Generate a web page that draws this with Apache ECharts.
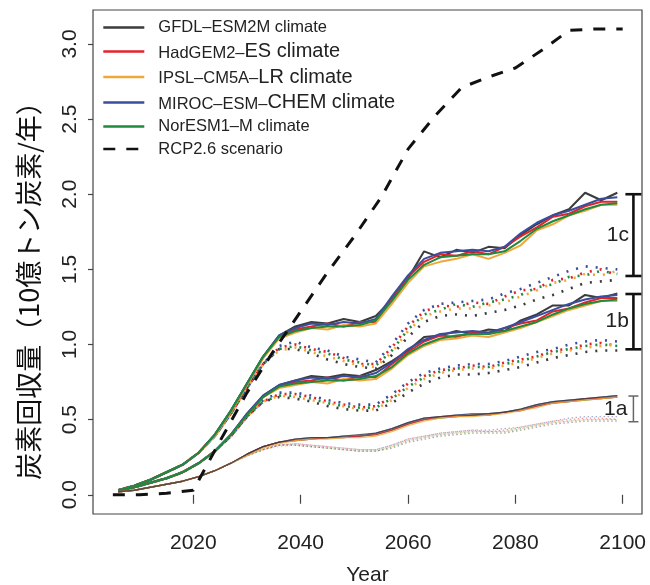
<!DOCTYPE html>
<html>
<head>
<meta charset="utf-8">
<script src="https://cdn.jsdelivr.net/npm/echarts@6/dist/echarts.min.js"></script>
<style>html,body{margin:0;padding:0;background:#fff}#c{width:650px;height:585px}</style>
</head>
<body>
<div id="c"></div>
<script>
const years = [2006,2009,2012,2015,2018,2021,2024,2027,2030,2033,2036,2039,2042,2045,2048,2051,2054,2057,2060,2063,2066,2069,2072,2075,2078,2081,2084,2087,2090,2093,2096,2099];

// 1c solid
const gfdl_c  = [0.03,0.06,0.10,0.15,0.20,0.28,0.40,0.56,0.74,0.92,1.06,1.12,1.15,1.14,1.17,1.15,1.19,1.30,1.44,1.62,1.58,1.63,1.61,1.65,1.64,1.73,1.80,1.86,1.90,2.01,1.96,2.01];
const had_c   = [0.03,0.06,0.10,0.15,0.20,0.28,0.40,0.55,0.73,0.91,1.05,1.10,1.12,1.14,1.12,1.15,1.15,1.31,1.45,1.55,1.60,1.59,1.62,1.60,1.65,1.72,1.78,1.85,1.87,1.92,1.95,1.95];
const ipsl_c  = [0.03,0.06,0.10,0.15,0.20,0.28,0.39,0.55,0.73,0.91,1.04,1.08,1.11,1.10,1.13,1.12,1.14,1.27,1.41,1.52,1.55,1.57,1.60,1.57,1.61,1.66,1.76,1.80,1.86,1.89,1.93,1.93];
const miroc_c = [0.03,0.06,0.10,0.15,0.20,0.28,0.40,0.56,0.74,0.92,1.06,1.11,1.14,1.13,1.15,1.14,1.17,1.32,1.46,1.57,1.61,1.62,1.63,1.62,1.65,1.74,1.81,1.86,1.89,1.93,1.97,1.98];
const nor_c   = [0.03,0.06,0.10,0.15,0.20,0.28,0.40,0.56,0.74,0.92,1.05,1.09,1.11,1.12,1.12,1.13,1.16,1.29,1.43,1.53,1.58,1.59,1.60,1.60,1.62,1.69,1.77,1.82,1.86,1.90,1.93,1.94];

// 1b solid
const gfdl_b  = [0.03,0.05,0.08,0.11,0.15,0.21,0.29,0.40,0.54,0.66,0.73,0.76,0.79,0.78,0.80,0.79,0.83,0.89,0.96,1.05,1.06,1.09,1.07,1.10,1.09,1.16,1.20,1.26,1.26,1.33,1.31,1.34];
const had_b   = [0.03,0.05,0.08,0.11,0.15,0.21,0.29,0.40,0.53,0.65,0.72,0.75,0.76,0.78,0.76,0.79,0.78,0.87,0.95,1.02,1.06,1.05,1.08,1.07,1.11,1.14,1.16,1.22,1.24,1.28,1.31,1.31];
const ipsl_b  = [0.03,0.05,0.08,0.11,0.15,0.21,0.29,0.40,0.53,0.65,0.71,0.73,0.75,0.74,0.77,0.76,0.77,0.84,0.93,0.99,1.03,1.04,1.06,1.05,1.08,1.11,1.15,1.19,1.23,1.26,1.29,1.29];
const miroc_b = [0.03,0.05,0.08,0.11,0.15,0.21,0.29,0.40,0.54,0.66,0.73,0.76,0.78,0.77,0.79,0.78,0.81,0.88,0.97,1.03,1.07,1.08,1.09,1.08,1.11,1.15,1.19,1.23,1.27,1.30,1.32,1.33];
const nor_b   = [0.03,0.05,0.08,0.11,0.15,0.21,0.29,0.40,0.53,0.65,0.72,0.74,0.75,0.76,0.76,0.77,0.79,0.85,0.94,1.00,1.04,1.06,1.07,1.07,1.09,1.12,1.15,1.20,1.24,1.27,1.29,1.30];

// 1a solid
const gfdl_a  = [0.02,0.03,0.05,0.07,0.09,0.12,0.16,0.21,0.27,0.32,0.35,0.37,0.38,0.38,0.39,0.40,0.41,0.44,0.48,0.51,0.52,0.53,0.53,0.54,0.55,0.57,0.60,0.62,0.63,0.64,0.65,0.66];
const had_a   = [0.02,0.03,0.05,0.07,0.09,0.12,0.16,0.21,0.27,0.32,0.35,0.36,0.37,0.38,0.38,0.39,0.40,0.43,0.47,0.50,0.52,0.52,0.53,0.53,0.55,0.56,0.59,0.61,0.62,0.64,0.64,0.65];
const ipsl_a  = [0.02,0.03,0.05,0.07,0.09,0.12,0.16,0.21,0.26,0.31,0.34,0.36,0.37,0.37,0.38,0.38,0.39,0.42,0.46,0.49,0.51,0.52,0.52,0.53,0.54,0.56,0.58,0.61,0.62,0.63,0.64,0.65];
const miroc_a = [0.02,0.03,0.05,0.07,0.09,0.12,0.16,0.21,0.27,0.32,0.35,0.37,0.38,0.38,0.39,0.39,0.41,0.44,0.48,0.51,0.52,0.53,0.54,0.54,0.55,0.57,0.60,0.62,0.63,0.64,0.65,0.66];
const nor_a   = [0.02,0.03,0.05,0.07,0.09,0.12,0.16,0.21,0.27,0.32,0.35,0.36,0.37,0.38,0.38,0.39,0.40,0.43,0.47,0.50,0.51,0.52,0.53,0.53,0.55,0.56,0.59,0.61,0.62,0.63,0.64,0.65];

// 1c dotted
const gfdl_cd  = [0.03,0.06,0.10,0.15,0.20,0.28,0.39,0.54,0.71,0.87,0.97,0.97,0.94,0.90,0.87,0.85,0.84,0.93,1.05,1.15,1.19,1.20,1.19,1.21,1.23,1.26,1.30,1.33,1.37,1.41,1.42,1.43];
const had_cd   = [0.03,0.06,0.10,0.15,0.20,0.28,0.39,0.54,0.71,0.87,0.98,1.00,0.97,0.95,0.91,0.87,0.87,0.98,1.12,1.22,1.26,1.25,1.28,1.27,1.32,1.36,1.37,1.43,1.44,1.48,1.50,1.46];
const ipsl_cd  = [0.03,0.06,0.10,0.15,0.20,0.28,0.39,0.54,0.71,0.87,0.96,0.98,0.95,0.92,0.89,0.86,0.85,0.95,1.09,1.19,1.22,1.24,1.24,1.26,1.28,1.32,1.36,1.41,1.43,1.47,1.46,1.49];
const miroc_cd = [0.03,0.06,0.10,0.15,0.20,0.28,0.39,0.54,0.71,0.87,0.99,1.02,0.98,0.96,0.92,0.90,0.88,1.00,1.14,1.23,1.27,1.28,1.29,1.30,1.34,1.37,1.41,1.45,1.49,1.52,1.51,1.50];
const nor_cd   = [0.03,0.06,0.10,0.15,0.20,0.28,0.39,0.54,0.71,0.87,0.97,0.99,0.96,0.94,0.90,0.88,0.86,0.96,1.10,1.20,1.23,1.27,1.25,1.28,1.30,1.33,1.38,1.40,1.45,1.46,1.49,1.47];

// 1b dotted
const gfdl_bd  = [0.03,0.05,0.08,0.11,0.15,0.21,0.29,0.39,0.52,0.62,0.65,0.64,0.62,0.59,0.57,0.56,0.56,0.61,0.68,0.74,0.78,0.80,0.80,0.81,0.83,0.85,0.88,0.91,0.93,0.95,0.96,0.96];
const had_bd   = [0.03,0.05,0.08,0.11,0.15,0.21,0.29,0.39,0.52,0.62,0.67,0.67,0.65,0.62,0.60,0.58,0.59,0.65,0.74,0.79,0.83,0.84,0.86,0.85,0.88,0.90,0.92,0.96,0.97,1.00,1.01,0.99];
const ipsl_bd  = [0.03,0.05,0.08,0.11,0.15,0.21,0.29,0.39,0.52,0.62,0.66,0.65,0.63,0.61,0.59,0.57,0.57,0.63,0.71,0.77,0.81,0.83,0.84,0.84,0.86,0.88,0.91,0.94,0.96,0.98,0.99,1.00];
const miroc_bd = [0.03,0.05,0.08,0.11,0.15,0.21,0.29,0.39,0.52,0.63,0.68,0.68,0.66,0.63,0.61,0.60,0.60,0.67,0.75,0.81,0.84,0.86,0.87,0.87,0.89,0.92,0.95,0.97,1.00,1.02,1.03,1.02];
const nor_bd   = [0.03,0.05,0.08,0.11,0.15,0.21,0.29,0.39,0.52,0.62,0.66,0.66,0.64,0.61,0.59,0.58,0.58,0.64,0.72,0.78,0.82,0.84,0.85,0.85,0.87,0.89,0.92,0.95,0.97,0.99,1.00,0.99];

// 1a dotted
const gfdl_ad  = [0.02,0.03,0.05,0.07,0.09,0.12,0.16,0.21,0.26,0.30,0.33,0.33,0.32,0.31,0.30,0.29,0.29,0.31,0.35,0.37,0.39,0.40,0.41,0.41,0.41,0.43,0.45,0.47,0.48,0.49,0.49,0.49];
const had_ad   = [0.02,0.03,0.05,0.07,0.09,0.12,0.16,0.21,0.26,0.30,0.33,0.34,0.33,0.32,0.31,0.30,0.30,0.33,0.37,0.39,0.41,0.42,0.43,0.42,0.43,0.45,0.47,0.49,0.50,0.51,0.51,0.50];
const ipsl_ad  = [0.02,0.03,0.05,0.07,0.09,0.12,0.16,0.21,0.26,0.30,0.32,0.33,0.32,0.31,0.30,0.29,0.29,0.32,0.36,0.38,0.40,0.41,0.42,0.42,0.42,0.44,0.46,0.48,0.49,0.50,0.50,0.51];
const miroc_ad = [0.02,0.03,0.05,0.07,0.09,0.12,0.16,0.21,0.26,0.31,0.33,0.34,0.33,0.32,0.31,0.30,0.30,0.33,0.37,0.39,0.41,0.42,0.43,0.43,0.44,0.45,0.47,0.49,0.51,0.52,0.52,0.52];
const nor_ad   = [0.02,0.03,0.05,0.07,0.09,0.12,0.16,0.21,0.26,0.30,0.33,0.33,0.32,0.31,0.30,0.29,0.29,0.32,0.36,0.38,0.40,0.41,0.42,0.42,0.42,0.44,0.46,0.48,0.49,0.50,0.50,0.50];

// RCP2.6 scenario
const rcpYears = [2005,2010,2015,2020,2025,2030,2035,2040,2045,2050,2055,2060,2065,2070,2075,2080,2085,2090,2095,2100];
const rcpVals  = [0.00,0.00,0.01,0.03,0.36,0.68,0.96,1.22,1.48,1.72,1.98,2.30,2.52,2.71,2.78,2.84,2.96,3.09,3.10,3.10];

// brackets
const bracketLabels = ['1c','1b','1a'];
const bracketTop    = [2.00,1.336,0.657];
const bracketBottom = [1.456,0.968,0.486];

const xTicks = [2020,2040,2060,2080,2100];
const yTicks = [0,0.5,1.0,1.5,2.0,2.5,3.0];

const modelNames = ['GFDL–ESM2M climate','HadGEM2–ES climate','IPSL–CM5A–LR climate','MIROC–ESM–CHEM climate','NorESM1–M climate'];
const rcpName = 'RCP2.6 scenario';
const modelColors = ['#3b3b3b','#e3222b','#f0a73a','#3a4e9f','#1f8a3c'];

const solidC = [gfdl_c,had_c,ipsl_c,miroc_c,nor_c];
const solidB = [gfdl_b,had_b,ipsl_b,miroc_b,nor_b];
const solidA = [gfdl_a,had_a,ipsl_a,miroc_a,nor_a];
const dotC = [gfdl_cd,had_cd,ipsl_cd,miroc_cd,nor_cd];
const dotB = [gfdl_bd,had_bd,ipsl_bd,miroc_bd,nor_bd];
const dotA = [gfdl_ad,had_ad,ipsl_ad,miroc_ad,nor_ad];

const FONT = 'Liberation Sans, Arial, sans-serif';

function pairs(xs, vs){ return vs.map((v,i)=>[xs[i], v]); }

const series = [];
function addGroup(group, lineStyleFn, z, order){
  (order || [0,1,2,3,4]).forEach(k => {
    series.push({
      type:'line', name: modelNames[k], data: pairs(years, group[k]),
      showSymbol:false, symbol:'none', z: z, silent:true,
      lineStyle: Object.assign({color: modelColors[k]}, lineStyleFn(k)),
      itemStyle:{color: modelColors[k]},
      emphasis:{disabled:true}
    });
  });
}
addGroup(solidC, k => ({width:2}), 4);
addGroup(solidB, k => ({width:2}), 4);
addGroup(solidA, k => ({width:1.3, opacity:0.8}), 4, [4,3,1,2,0]);
addGroup(dotC, k => ({width:2.6, type:[2,8], dashOffset:k*2}), 3);
addGroup(dotB, k => ({width:2.6, type:[2,8], dashOffset:k*2}), 3);
addGroup(dotA, k => ({width:1.3, type:[1.5,2.5], dashOffset:k, opacity:0.45}), 3);

series.push({
  type:'line', name: rcpName, data: pairs(rcpYears, rcpVals),
  showSymbol:false, symbol:'none', z:6, silent:true,
  lineStyle:{color:'#111', width:3, type:[12,11]},
  itemStyle:{color:'#111'},
  emphasis:{disabled:true}
});

const bracketX = 2102.0;
series.push({
  type:'custom', coordinateSystem:'cartesian2d', silent:true, clip:false, z:7,
  data: bracketTop.map((t,i)=>[bracketX, t, bracketBottom[i]]),
  encode:{x:0, y:[1,2]},
  renderItem: function(params, api){
    const i = params.dataIndex;
    const p1 = api.coord([api.value(0), api.value(1)]);
    const p2 = api.coord([api.value(0), api.value(2)]);
    const minor = (i === 2);
    const half = minor ? 5 : 8;
    const st = {stroke: minor ? '#666' : '#111', lineWidth: minor ? 1.5 : 2.6};
    return {type:'group', children:[
      {type:'line', shape:{x1:p1[0], y1:p1[1], x2:p2[0], y2:p2[1]}, style:st},
      {type:'line', shape:{x1:p1[0]-half, y1:p1[1], x2:p1[0]+half, y2:p1[1]}, style:st},
      {type:'line', shape:{x1:p2[0]-half, y1:p2[1], x2:p2[0]+half, y2:p2[1]}, style:st},
      {type:'text', x: p1[0] - (minor ? 6 : 4.5), y:(p1[1]+p2[1])/2,
        style:{text: bracketLabels[i], font:'21px ' + FONT, fill:'#222', align:'right', verticalAlign:'middle'}}
    ]};
  }
});

const richMap = {
  'HadGEM2–ES climate': '{s|HadGEM2–}{b|ES climate}',
  'IPSL–CM5A–LR climate': '{s|IPSL–CM5A–}{b|LR climate}',
  'MIROC–ESM–CHEM climate': '{s|MIROC–ESM–}{b|CHEM climate}'
};

const option = {
  animation:false,
  grid:{left:93, right:8, top:10, bottom:71, show:true, borderColor:'#444', borderWidth:1.2, backgroundColor:'transparent', containLabel:false, outerBoundsMode:'none'},
  legend:{
    orient:'vertical', left:97, top:14, itemWidth:41, itemHeight:14, itemGap:5.5,
    data: modelNames.concat([rcpName]),
    selectedMode:false,
    itemStyle:{opacity:0, borderWidth:0},
    lineStyle:{width:2.6},
    formatter: n => richMap[n] || ('{s|' + n + '}'),
    textStyle:{fontFamily:FONT, color:'#222', padding:[0,0,0,9],
      rich:{
        s:{fontSize:16.5, fontFamily:FONT, color:'#222', verticalAlign:'bottom'},
        b:{fontSize:20, fontFamily:FONT, color:'#222', verticalAlign:'bottom'}
      }}
  },
  xAxis:{
    type:'value', min:2001.3, max:2103.6,
    axisLine:{show:false}, splitLine:{show:false},
    axisTick:{show:true, customValues:xTicks, length:9, lineStyle:{color:'#444', width:1.2}},
    axisLabel:{customValues:xTicks, fontSize:21, fontFamily:FONT, color:'#222', margin:19,
      formatter: v => String(Math.round(v))},
    name:'Year', nameLocation:'middle', nameGap:51,
    nameTextStyle:{fontSize:21, fontFamily:FONT, color:'#222'}
  },
  yAxis:{
    type:'value', min:-0.128, max:3.226,
    axisLine:{show:false}, splitLine:{show:false},
    axisTick:{show:true, customValues:yTicks, length:5, lineStyle:{color:'#444', width:1.2}},
    axisLabel:{customValues:yTicks, fontSize:21, fontFamily:FONT, color:'#222', margin:12, rotate:90,
      formatter: v => Number(v).toFixed(1)}
  },
  graphic:[{
    type:'text', x:29, y:284, rotation:Math.PI/2,
    style:{text:'炭素回収量（10億トン炭素/年）', font:'27px "Noto Sans CJK JP"', fill:'#111', align:'center', verticalAlign:'middle'}
  }],
  series: series
};

const chart = echarts.init(document.getElementById('c'), null, {renderer:'canvas'});
chart.setOption(option);
</script>
</body>
</html>
